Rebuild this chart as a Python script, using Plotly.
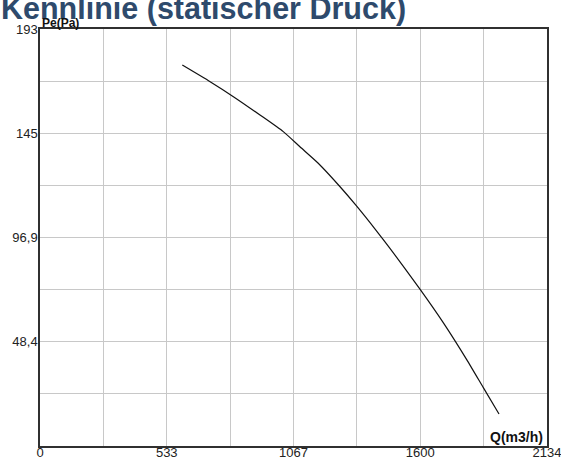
import plotly.graph_objects as go

# Data
q_values = [599, 716, 814, 926, 1024, 1094, 1170, 1263, 1333, 1417, 1473, 1600, 1698, 1796, 1866, 1932]
pe_values = [176.3, 168.6, 161.7, 153.2, 145.5, 138.5, 131.0, 120.0, 111.0, 99.5, 91.5, 72.5, 57.0, 40.0, 27.0, 14.8]

x_max = 2134
y_max = 193
x_grid = [i * x_max / 8 for i in range(9)]
x_text = ["0", "", "533", "", "1067", "", "1600", "", "2134"]
y_grid = [i * y_max / 8 for i in range(9)]
y_text = ["", "", "48,4", "", "96,9", "", "145", "", "193"]

title_text = "Kennlinie (statischer Druck)"
x_title = "Q(m3/h)"
y_title = "Pe(Pa)"

W, H = 561, 458
ml, mr, mt, mb = 40, 14, 29, 12

fig = go.Figure()
fig.add_trace(go.Scatter(
    x=q_values, y=pe_values, mode="lines",
    line=dict(color="#111111", width=1.2, shape="spline", smoothing=0.6),
    hoverinfo="skip", showlegend=False,
))

tick_font = dict(family="Liberation Sans, Arial, sans-serif", size=13, color="#222222")

fig.update_layout(
    width=W, height=H, autosize=False,
    margin=dict(l=ml, r=mr, t=mt, b=mb, pad=0, autoexpand=False),
    paper_bgcolor="white", plot_bgcolor="white",
    showlegend=False,
    title=dict(
        text=f"<b>{title_text}</b>",
        font=dict(family="Liberation Sans, Arial, sans-serif", size=30.5, color="#2e4a6c"),
        x=1 / W, xanchor="left", xref="container",
        y=1 - 19 / H, yanchor="bottom", yref="container", automargin=False,
    ),
    xaxis=dict(
        range=[0, x_max], tickmode="array", tickvals=x_grid, ticktext=x_text,
        showgrid=True, gridcolor="#c8c8c8", gridwidth=1,
        showline=True, linecolor="#303030", linewidth=1.5, mirror=True,
        ticks="", tickfont=tick_font, zeroline=False, fixedrange=True,
        automargin=False, ticklabelstandoff=-6, ticklabeloverflow="allow",
    ),
    yaxis=dict(
        range=[0, y_max], tickmode="array", tickvals=y_grid, ticktext=y_text,
        showgrid=True, gridcolor="#c8c8c8", gridwidth=1,
        showline=True, linecolor="#303030", linewidth=1.5, mirror=True,
        ticks="", tickfont=tick_font, zeroline=False, fixedrange=True,
        ticklabelstandoff=-2, automargin=False, ticklabeloverflow="allow",
    ),
    annotations=[
        dict(text=f"<b>{y_title}</b>", xref="paper", yref="paper", x=0.0, y=1.0,
             xanchor="left", yanchor="bottom", showarrow=False, xshift=0, yshift=-3,
             font=dict(family="Liberation Sans, Arial, sans-serif", size=12, color="#111111")),
        dict(text=f"<b>{x_title}</b>", xref="paper", yref="paper", x=1.0, y=0.0,
             xanchor="right", yanchor="bottom", showarrow=False, xshift=-2, yshift=-1,
             font=dict(family="Liberation Sans, Arial, sans-serif", size=14, color="#111111")),
    ],
)

fig.write_html(
    "out.html",
    config={"responsive": False, "displayModeBar": False},
    post_script="document.body.style.margin='0';document.body.style.overflow='hidden';",
)
